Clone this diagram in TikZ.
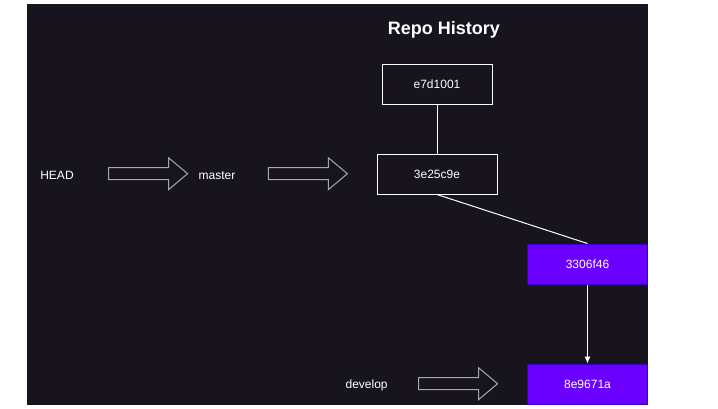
\documentclass[tikz,border=0pt]{standalone}
\usepackage{fontspec}
\setmainfont{Liberation Sans}
\usepackage{tikz}
\usetikzlibrary{shapes, shapes.arrows, arrows.meta, positioning}

\definecolor{bgdark}{HTML}{18141D}
\definecolor{commitpurple}{HTML}{6A00FF}
\definecolor{commitedge}{HTML}{3700CC}
\definecolor{arrgray}{HTML}{A8A8A8}

\begin{document}
\begin{tikzpicture}[x=1pt, y=-1pt, >={Latex[length=7pt,width=6pt]}, line width=1pt,
    font=\fontsize{12}{14}\selectfont]
    % Define styles locally
    \tikzset{
        commit/.style = {rectangle, draw=white, minimum width=120pt, minimum height=40pt, inner sep=0pt, text=white},
        branchcommit/.style = {commit, draw=commitedge, fill=commitpurple},
        refname/.style = {text=white, inner sep=0pt},
        pointer/.style = {single arrow, draw=arrgray, fill=bgdark, minimum height=79pt, inner xsep=0pt,
            inner ysep=5.5pt, single arrow head extend=10pt, single arrow tip angle=80}
    }

    % Canvas
    \useasboundingbox (0,0) rectangle (718,408);
    \fill[white] (0,0) rectangle (718,408);
    \fill[bgdark] (27,4) rectangle (648,405);

    % Title
    \node[text=white, font=\fontsize{18}{21}\selectfont\bfseries] (title) at (444,30) {Repo History};

    % Commits
    \node[commit, minimum width=110pt] (c1) at (437,84) {e7d1001};
    \node[commit] (c2) at (437,174) {3e25c9e};
    \node[branchcommit] (c3) at (587.5,264) {3306f46};
    \node[branchcommit] (c4) at (587.5,384) {8e9671a};

    % Refs
    \node[refname] (head) at (57,175.5) {HEAD};
    \node[refname] (master) at (217,175.5) {master};
    \node[refname] (develop) at (366.6,385) {develop};

    % Pointer arrows
    \node[pointer] (p1) at (144.5,173.7) {};
    \node[pointer] (p2) at (304.3,173.7) {};
    \node[pointer] (p3) at (454.5,383.7) {};

    % History links
    \draw[white] (c1) -- (c2);
    \draw[white] (c2.south) -- (c3.north);
    \draw[white, ->] (c3) -- (c4);

\end{tikzpicture}
\end{document}
